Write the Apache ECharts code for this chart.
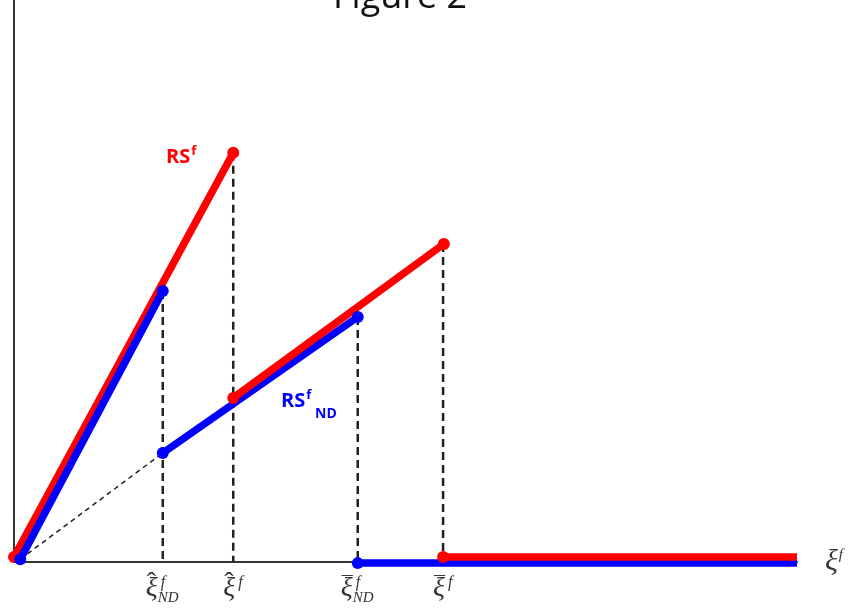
<!DOCTYPE html>
<html><head><meta charset="utf-8">
<script src="https://cdn.jsdelivr.net/npm/echarts@6/dist/echarts.min.js"></script>
<style>html,body{margin:0;padding:0;background:#fff}#c{width:852px;height:615px}</style>
</head><body><div id="c"></div>
<script>
// ---- data (axis units 0..10) ----
const redSeg1   = [[0, 0.09], [2.80, 7.28]];
const blueSeg1  = [[0.08, 0.05], [1.90, 4.82]];
const blueSeg2  = [[1.90, 1.94], [4.39, 4.36]];
const redSeg2   = [[2.80, 2.92], [5.49, 5.66]];
const blueFlat  = [[4.39, -0.02], [10, -0.02]];
const redFlat   = [[5.48, 0.09], [10, 0.09]];
const dashOrigin = [[0.08, 0.05], [1.90, 1.94]];
const tickValues = [1.90, 2.80, 4.39, 5.48];
const tickTops   = [4.82, 7.28, 4.36, 5.66];
const tickAccent = ['\u02C6', '\u02C6', '\u00AF', '\u00AF'];
const tickSub    = ['ND', '', 'ND', ''];

const RED = '#ff0000', BLUE = '#0000ff', DASH = '#222222', INK = '#333333';
const chart = echarts.init(document.getElementById('c'));

function seg(data, color, dotStart, dotEnd) {
  return {
    type: 'line', data: data.map((p, i) => ({value: p, symbol: (i === 0 ? dotStart : dotEnd) ? 'circle' : 'none'})),
    symbolSize: 12, showSymbol: true, clip: false, animation: false,
    lineStyle: {color, width: 7.5, cap: 'butt'}, itemStyle: {color}, emphasis: {disabled: true}, silent: true
  };
}
function dashed(data, width, dashArr) {
  return {type: 'line', data, symbol: 'none', clip: false, animation: false, silent: true,
    lineStyle: {color: DASH, width, type: dashArr}, z: 1};
}
const series = [];
tickValues.forEach((v, i) => series.push(dashed([[v, tickTops[i]], [v, 0]], 2.5, [8, 5])));
series.push(dashed(dashOrigin, 1.5, [5, 4]));
series.push(seg(redSeg1, RED, true, true));
series.push(seg(blueSeg1, BLUE, true, true));
series.push(seg(blueSeg2, BLUE, true, true));
series.push(seg(redSeg2, RED, true, true));
series.push(seg(blueFlat, BLUE, true, false));
series.push(seg(redFlat, RED, true, false));

chart.setOption({
  animation: false,
  title: {text: 'Figure 2', left: 333, top: -20, padding: 0,
    textStyle: {fontFamily: 'Open Sans', fontWeight: 'normal', fontSize: 36, color: '#111'}},
  grid: {left: 14, right: 55, top: 0, bottom: 53},
  xAxis: {type: 'value', min: 0, max: 10, splitLine: {show: false}, axisTick: {show: false},
    axisLabel: {show: false},
    axisLine: {lineStyle: {color: '#333', width: 2}},
    name: '{x|\u03BE}{f|f}', nameLocation: 'end', nameGap: 28,
    nameTextStyle: {rich: {
      x: {fontFamily: 'Liberation Serif', fontStyle: 'italic', fontSize: 30, color: INK},
      f: {fontFamily: 'Liberation Serif', fontStyle: 'italic', fontSize: 15, color: INK, padding: [0, 0, 14, 1]}
    }}},
  yAxis: {type: 'value', min: 0, max: 10, splitLine: {show: false}, axisTick: {show: false},
    axisLabel: {show: false}, axisLine: {lineStyle: {color: '#333', width: 2}}},
  series
});

// annotation labels placed through the axes' scales
const px = v => chart.convertToPixel({xAxisIndex: 0}, v);
const serif = 'Liberation Serif';
function txt(text, x, y, font, fill) {
  return {type: 'text', x, y, silent: true,
    style: {text, font, fill, textAlign: 'left', textVerticalAlign: 'top', align: 'left', verticalAlign: 'top'}};
}
const els = [];
tickValues.forEach((v, i) => {
  const x = px(v), nd = tickSub[i] !== '';
  const bx = x - (nd ? 17 : 10);
  els.push(txt('\u03BE', bx, 575, 'italic 28px ' + serif, INK));
  if (tickAccent[i] === '\u02C6') els.push(txt(tickAccent[i], bx + 1, 570, '28px ' + serif, INK));
  else els.push(txt(tickAccent[i], bx + 1, 574, '22px ' + serif, INK));
  els.push(txt('f', bx + 15, 575, 'italic 16px ' + serif, INK));
  if (nd) els.push(txt('ND', bx + 12, 591, 'italic 15px ' + serif, INK));
});
// series name labels
function rsLabel(x, y, color) {
  return {type: 'text', x, y, silent: true,
    style: {text: '{m|RS}{s|f}', fill: color, rich: {
      m: {fontFamily: 'Open Sans', fontWeight: 'bold', fontSize: 20, fill: color, color},
      s: {fontFamily: 'Open Sans', fontWeight: 'bold', fontSize: 13, fill: color, color, padding: [0, 0, 11, 1]}}}};
}
els.push(rsLabel(166, 145, RED));
els.push(rsLabel(281, 389, BLUE));
els.push(txt('ND', 315, 407, 'bold 14px Open Sans', BLUE));
chart.setOption({graphic: {elements: els}});
</script></body></html>
